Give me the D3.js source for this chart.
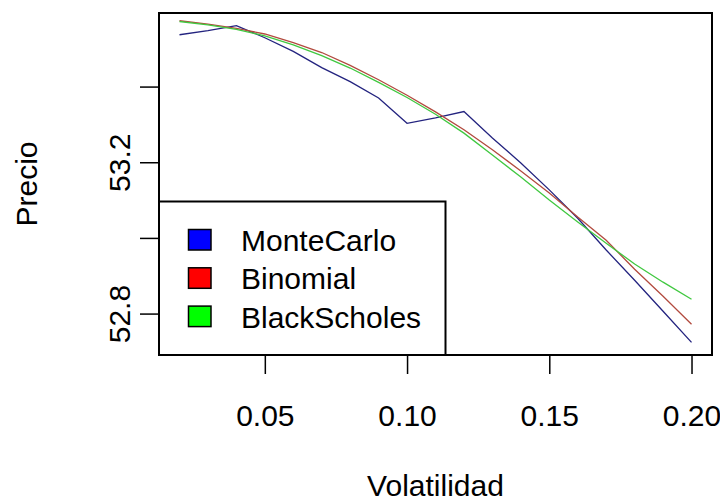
<!DOCTYPE html>
<html>
<head>
<meta charset="utf-8">
<script src="https://cdn.jsdelivr.net/npm/d3@7"></script>
<style>
  body { margin: 0; background: #fff; }
  text { font-family: "Liberation Sans", Arial, sans-serif; fill: #000; }
</style>
</head>
<body>
<div id="chart"></div>
<script>
// Data
const volatility = [0.02, 0.03, 0.04, 0.05, 0.06, 0.07, 0.08, 0.09, 0.10, 0.11,
                    0.12, 0.13, 0.14, 0.15, 0.16, 0.17, 0.18, 0.19, 0.20];
const monteCarlo = [53.537, 53.548, 53.561, 53.529, 53.493, 53.450, 53.413, 53.370, 53.303, 53.317,
                    53.334, 53.264, 53.198, 53.127, 53.052, 52.968, 52.888, 52.806, 52.724];
const binomial = [53.574, 53.565, 53.554, 53.539, 53.516, 53.490, 53.456, 53.418, 53.377, 53.333,
                  53.286, 53.233, 53.177, 53.119, 53.055, 52.994, 52.917, 52.846, 52.772];
const blackScholes = [53.572, 53.563, 53.551, 53.534, 53.510, 53.482, 53.449, 53.411, 53.371, 53.327,
                      53.277, 53.219, 53.161, 53.100, 53.042, 52.986, 52.931, 52.883, 52.838];

const xTicks = [0.05, 0.10, 0.15, 0.20];
const xTickLabels = ["0.05", "0.10", "0.15", "0.20"];
const yTicks = [52.8, 53.0, 53.2, 53.4];
const yTickLabels = ["52.8", "", "53.2", ""];   // R hides the overlapping ones

const seriesNames = ["MonteCarlo", "Binomial", "BlackScholes"];
const legendFill = ["#0000ff", "#ff0000", "#00ff00"];
const lineColor = ["#23237f", "#b24a3e", "#40c840"];

const W = 720, H = 503;
const box = { left: 159, right: 712, top: 13, bottom: 355 };
const fontSize = 30;

const svg = d3.select("#chart")
    .append("svg")
    .attr("width", W)
    .attr("height", H);

// R style: range of first plotted series, padded by 4%
const pad = ([a, b]) => [a - (b - a) * 0.04, b + (b - a) * 0.04];

const x = d3.scaleLinear()
    .domain(pad(d3.extent(volatility)))
    .range([box.left, box.right]);

const y = d3.scaleLinear()
    .domain(pad(d3.extent(monteCarlo)))
    .range([box.bottom, box.top]);

// Lines
const allSeries = [monteCarlo, binomial, blackScholes];
const line = d3.line()
    .x((d, i) => x(volatility[i]))
    .y(d => y(d));

svg.selectAll(".series")
    .data(allSeries)
    .enter().append("path")
    .attr("class", "series")
    .attr("fill", "none")
    .attr("stroke", (d, i) => lineColor[i])
    .attr("stroke-width", 1.3)
    .attr("d", line);

// X axis
const xAxis = svg.append("g")
    .attr("transform", `translate(0,${box.bottom})`)
    .call(d3.axisBottom(x)
        .tickValues(xTicks)
        .tickSize(19)
        .tickSizeOuter(0)
        .tickPadding(31)
        .tickFormat((d, i) => xTickLabels[i]));
xAxis.select(".domain").remove();
xAxis.selectAll("line").attr("stroke", "#000").attr("stroke-width", 1.5);
xAxis.selectAll("text")
    .attr("font-size", fontSize)
    .attr("font-family", "Liberation Sans, Arial, sans-serif")
    .attr("fill", "#000");

// Y axis
const yAxis = svg.append("g")
    .attr("transform", `translate(${box.left},0)`)
    .call(d3.axisLeft(y)
        .tickValues(yTicks)
        .tickSize(19)
        .tickSizeOuter(0)
        .tickFormat((d, i) => yTickLabels[i]));
yAxis.select(".domain").remove();
yAxis.selectAll("line").attr("stroke", "#000").attr("stroke-width", 1.5);
yAxis.selectAll("text")
    .attr("font-size", fontSize)
    .attr("font-family", "Liberation Sans, Arial, sans-serif")
    .attr("fill", "#000")
    .attr("text-anchor", "middle")
    .attr("x", 0)
    .attr("dy", 0)
    .attr("transform", `translate(-29,0) rotate(-90)`);

// Plot box
svg.append("rect")
    .attr("x", box.left)
    .attr("y", box.top)
    .attr("width", box.right - box.left)
    .attr("height", box.bottom - box.top)
    .attr("fill", "none")
    .attr("stroke", "#000")
    .attr("stroke-width", 2);

// Axis titles
svg.append("text")
    .attr("x", (box.left + box.right) / 2)
    .attr("y", 496)
    .attr("text-anchor", "middle")
    .attr("font-size", fontSize)
    .text("Volatilidad");

svg.append("text")
    .attr("transform", `translate(37,${(box.top + box.bottom) / 2}) rotate(-90)`)
    .attr("text-anchor", "middle")
    .attr("font-size", fontSize)
    .text("Precio");

// Legend (bottom left)
const legendBox = { x: box.left, y: 201.5, w: 286.5, h: box.bottom - 201.5 };
svg.append("rect")
    .attr("x", legendBox.x)
    .attr("y", legendBox.y)
    .attr("width", legendBox.w)
    .attr("height", legendBox.h)
    .attr("fill", "#fff")
    .attr("stroke", "#000")
    .attr("stroke-width", 2);

const legend = svg.append("g")
    .selectAll("g")
    .data(seriesNames)
    .enter().append("g")
    .attr("transform", (d, i) => `translate(${legendBox.x},${240 + i * 38.3})`);

legend.append("rect")
    .attr("x", 29.5)
    .attr("y", -10.5)
    .attr("width", 22.5)
    .attr("height", 20.5)
    .attr("fill", (d, i) => legendFill[i])
    .attr("stroke", "#000")
    .attr("stroke-width", 1.5);

legend.append("text")
    .attr("x", 82)
    .attr("y", 11)
    .attr("font-size", fontSize)
    .text(d => d);
</script>
</body>
</html>
